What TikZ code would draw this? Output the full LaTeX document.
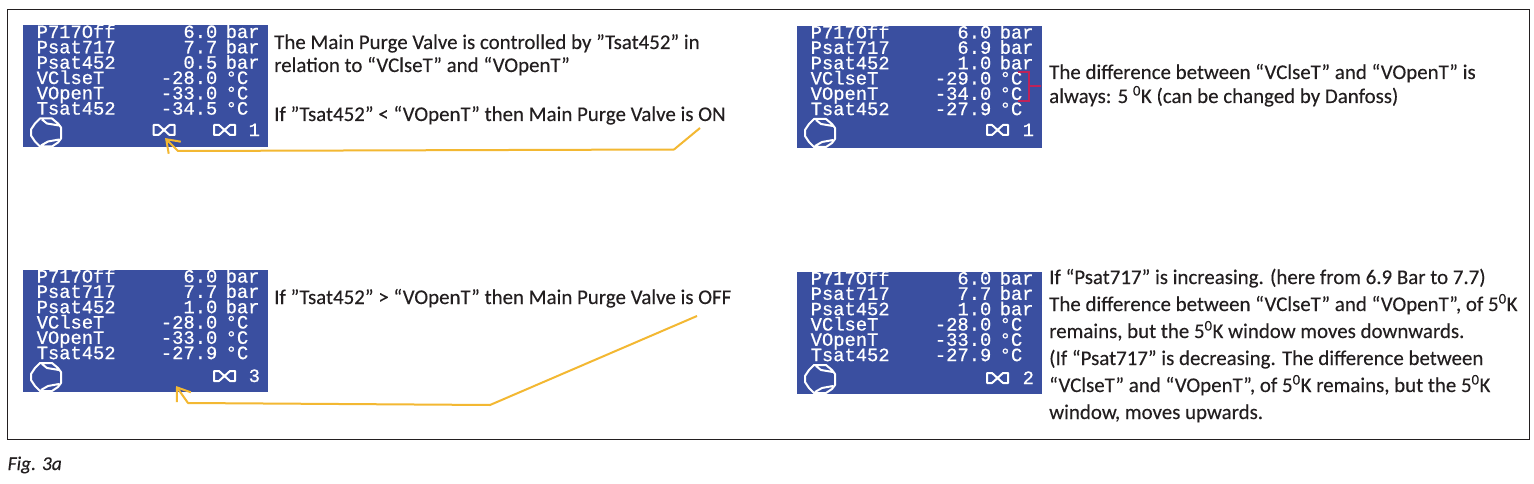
\documentclass[tikz,border=0pt]{standalone}
\usepackage{fontspec}
\usepackage{xcolor}
\usetikzlibrary{arrows.meta}
\setmainfont[FakeBold=0.2]{Carlito}
\newfontfamily\lcdfont[FakeBold=0.7]{Liberation Mono}
\definecolor{lcdblue}{RGB}{58,79,160}
\definecolor{callout}{RGB}{243,184,50}
\definecolor{brace}{RGB}{190,35,90}
\definecolor{inktext}{RGB}{35,31,32}
\tikzset{
  frame/.style={draw=inktext,line width=0.9pt},
  lcdback/.style={fill=lcdblue,draw=none},
  lcdtext/.style={text=white,inner sep=0pt,font=\lcdfont\fontsize{18.8}{18.8}\selectfont},
  lcdicon/.style={draw=white,line width=2pt,line join=round},
  bodytext/.style={anchor=base west,inner sep=0pt,text=inktext,font=\fontsize{20.9}{24}\selectfont},
  captiontext/.style={anchor=base west,inner sep=0pt,text=inktext,font=\itshape\fontsize{19.5}{24}\selectfont},
  leader/.style={draw=callout,line width=2pt,line join=round,-{Straight Barb[length=12pt,width=17pt]}},
  bracketline/.style={draw=brace,line width=1.3pt},
}
% row: #1 panel name, #2 row number, #3 baseline offset, #4 label, #5 value, #6 unit
\newcommand{\lcdrow}[6]{%
  \node[lcdtext,anchor=base west] (#1-l#2) at (13.5,#3) {#4};
  \node[lcdtext,anchor=base east] (#1-v#2) at (194.5,#3) {#5};
  \node[lcdtext,anchor=base west] (#1-u#2) at (202.5,#3) {#6};
}
\newcommand{\valveicon}[2]{%
  \draw[lcdicon,shift={(#1,#2)}] (0,0)--(5,0)--(10.5,5)--(16,0)--(21,0)--(21,10)--(16,10)--(10.5,5)--(5,10)--(0,10)--cycle;
}
\newcommand{\compressoricon}[2]{%
  \draw[lcdicon,shift={(#1,#2)}] (-15,-3)--(-11,-9)--(-6,-14)--(6,-14)--(12,-9)--(15,-5)--(15,6)--(12,10)--(6,14)--(-6,14)--(-11,9)--(-15,3)--cycle
    (-4,-13)--(1,-9)--(13,-7) (-5,13)--(2,9)--(13,7);
}
% #1 name, #2 x, #3 y, #4-#8 values
\newcommand{\lcdpanel}[8]{%
  \begin{scope}[shift={(#2,#3)}]
    \fill[lcdback] (0,0) rectangle (245,122);
    \begin{scope}
      \clip (0,0) rectangle (245,122);
      \lcdrow{#1}{1}{12.5}{P717Off}{6.0}{bar}
      \lcdrow{#1}{2}{27.8}{Psat717}{#4}{bar}
      \lcdrow{#1}{3}{43.2}{Psat452}{#5}{bar}
      \lcdrow{#1}{4}{58.5}{VClseT}{#6}{°C}
      \lcdrow{#1}{5}{73.8}{VOpenT}{#7}{°C}
      \lcdrow{#1}{6}{89.1}{Tsat452}{-#8}{°C}
      \compressoricon{23}{107}
    \end{scope}
  \end{scope}
}
\begin{document}
\begin{tikzpicture}[x=1pt,y=-1pt]
\useasboundingbox (0,0) rectangle (1534,484);
\fill[white] (0,0) rectangle (1534,484);
\draw[frame] (7,9) rectangle (1529,439);

\lcdpanel{pa}{23}{25.5}{7.7}{0.5}{-28.0}{-33.0}{34.5}
\lcdpanel{pb}{797}{26}{6.9}{1.0}{-29.0}{-34.0}{27.9}
\lcdpanel{pc}{23}{270}{7.7}{1.0}{-28.0}{-33.0}{27.9}
\lcdpanel{pd}{797}{272}{7.7}{1.0}{-28.0}{-33.0}{27.9}

\valveicon{153.5}{125}
\valveicon{214}{125}
\node[lcdtext,anchor=base west] (pa-n) at (248.5,136) {1};
\valveicon{987}{125}
\node[lcdtext,anchor=base west] (pb-n) at (1022.5,136) {1};
\valveicon{214}{371}
\node[lcdtext,anchor=base west] (pc-n) at (248.5,382) {3};
\valveicon{987}{373}
\node[lcdtext,anchor=base west] (pd-n) at (1022.5,384) {2};

\node[bodytext] (t1a) at (274,49) {The Main Purge Valve is controlled by ”Tsat452” in};
\node[bodytext] (t1b) at (274,72) {relation to “VClseT” and “VOpenT”};
\node[bodytext] (t1c) at (274,121) {If ”Tsat452” < “VOpenT” then Main Purge Valve is ON};

\node[bodytext] (t2a) at (1049,79) {The difference between “VClseT” and “VOpenT” is};
\node[bodytext] (t2b) at (1049,103) {always: 5 \textsuperscript{0}K (can be changed by Danfoss)};

\node[bodytext] (t3a) at (274,304) {If ”Tsat452” > “VOpenT” then Main Purge Valve is OFF};

\node[bodytext] (t4a) at (1049,284) {If “Psat717” is increasing. (here from 6.9 Bar to 7.7)};
\node[bodytext] (t4b) at (1049,311) {The difference between “VClseT” and “VOpenT”, of 5\textsuperscript{0}K};
\node[bodytext] (t4c) at (1049,338) {remains, but the 5\textsuperscript{0}K window moves downwards.};
\node[bodytext] (t4d) at (1049,365) {(If “Psat717” is decreasing. The difference between};
\node[bodytext] (t4e) at (1049,392) {“VClseT” and “VOpenT”, of 5\textsuperscript{0}K remains, but the 5\textsuperscript{0}K};
\node[bodytext] (t4f) at (1049,419) {window, moves upwards.};

\node[captiontext] (cap) at (7.5,470) {Fig. 3a};

\coordinate (a0) at (700,128);
\coordinate (a1) at (674,149.5);
\coordinate (a2) at (178,151);
\coordinate (a3) at (165,138);
\draw[leader] (a0) -- (a1) -- (a2) -- (a3);

\coordinate (b0) at (697,316);
\coordinate (b1) at (490,405);
\coordinate (b2) at (188,403);
\coordinate (b3) at (176,386);
\draw[leader] (b0) -- (b1) -- (b2) -- (b3);

\coordinate (r1) at (1018,72);
\coordinate (r2) at (1029,72);
\coordinate (r3) at (1029,101);
\coordinate (r4) at (1018,101);
\coordinate (r5) at (1029,86);
\coordinate (r6) at (1041,86);
\draw[bracketline] (r1) -- (r2) -- (r3) -- (r4);
\draw[bracketline] (r5) -- (r6);
\end{tikzpicture}
\end{document}
